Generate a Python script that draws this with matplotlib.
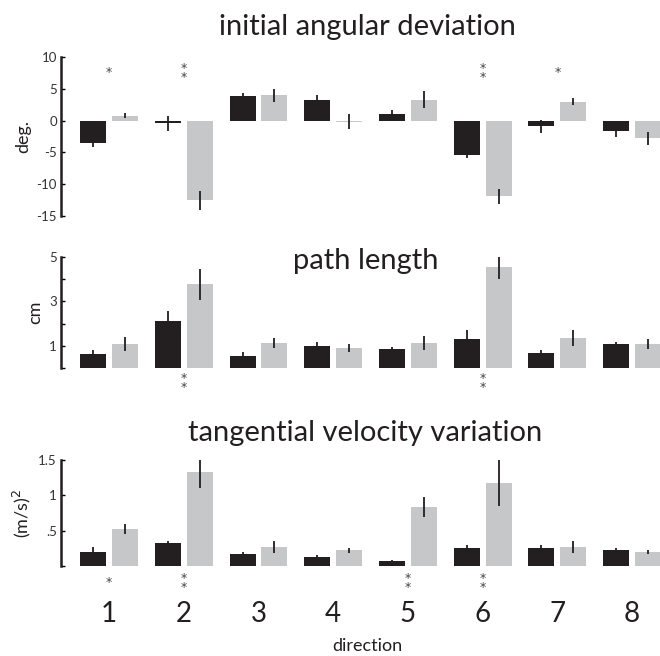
import numpy as np
import matplotlib
matplotlib.use("Agg")
import matplotlib.pyplot as plt

plt.rcParams['font.family'] = ['Lato', 'DejaVu Sans']

directions = [1, 2, 3, 4, 5, 6, 7, 8]

# initial angular deviation (deg.)
ang_black = [-3.6, -0.4, 3.8, 3.2, 1.0, -5.4, -0.9, -1.6]
ang_black_err = [0.5, 1.2, 0.6, 0.8, 0.6, 0.5, 1.0, 0.9]
ang_grey = [0.8, -12.5, 4.0, -0.15, 3.3, -11.9, 3.0, -2.8]
ang_grey_err = [0.4, 1.5, 1.0, 1.2, 1.3, 1.2, 0.55, 1.0]
ang_stars = {1: 1, 2: 2, 6: 2, 7: 1}

# path length (cm)
path_black = [0.63, 2.12, 0.54, 1.0, 0.86, 1.3, 0.68, 1.08]
path_black_err = [0.2, 0.45, 0.2, 0.15, 0.1, 0.4, 0.15, 0.1]
path_grey = [1.08, 3.78, 1.13, 0.9, 1.13, 4.55, 1.35, 1.08]
path_grey_err = [0.3, 0.7, 0.24, 0.2, 0.32, 0.52, 0.36, 0.22]
path_stars = {2: 2, 6: 2}

# tangential velocity variation ((m/s)^2)
vel_black = [0.2, 0.32, 0.17, 0.13, 0.07, 0.25, 0.25, 0.22]
vel_black_err = [0.07, 0.03, 0.03, 0.02, 0.01, 0.05, 0.05, 0.03]
vel_grey = [0.52, 1.33, 0.27, 0.22, 0.83, 1.18, 0.27, 0.2]
vel_grey_err = [0.07, 0.23, 0.08, 0.04, 0.14, 0.33, 0.08, 0.03]
vel_stars = {1: 1, 2: 2, 5: 2, 6: 2}

BLACK = '#231f20'
GREY = '#c6c7c9'
TXT = '#231f20'
W = 0.348
OFF = 0.214

fig = plt.figure(figsize=(6.6, 6.56), dpi=100)


def panel(rect, black, black_err, grey, grey_err, ylim, yticks, yticklabels,
          ylabel, stars, star_y):
    ax = fig.add_axes(rect)
    x = np.array(directions, dtype=float)
    ax.bar(x - OFF, black, W, color=BLACK, zorder=2)
    ax.bar(x + OFF, grey, W, color=GREY, zorder=2)
    ax.errorbar(x - OFF, black, yerr=black_err, fmt='none', ecolor=BLACK,
                elinewidth=1.3, capsize=0, zorder=3)
    ax.errorbar(x + OFF, grey, yerr=grey_err, fmt='none', ecolor=BLACK,
                elinewidth=1.3, capsize=0, zorder=3)
    ax.set_xlim(0.357, 8.4)
    ax.set_ylim(*ylim)
    ax.set_yticks(yticks)
    ax.set_yticklabels(yticklabels)
    for s in ['top', 'right', 'bottom']:
        ax.spines[s].set_visible(False)
    ax.spines['left'].set_linewidth(1.8)
    ax.spines['left'].set_color(BLACK)
    ax.set_xticks([])
    ax.tick_params(axis='y', direction='in', length=3, width=1,
                   labelsize=9.5, labelcolor='#333333', pad=3)
    ax.set_ylabel(ylabel, fontsize=13, color=TXT, labelpad=4)
    for d, n in stars.items():
        ax.text(d, star_y, '*\n' * (n - 1) + '*', ha='center', va='center',
                fontsize=9, color='#444444', linespacing=0.55,
                family='DejaVu Sans', clip_on=False)
    return ax


ax1 = panel([61 / 660, 1 - 216 / 656, 601 / 660, 159 / 656],
            ang_black, ang_black_err, ang_grey, ang_grey_err,
            (-15, 10), [-15, -10, -5, 0, 5, 10],
            ['-15', '-10', '-5', '0', '5', '10'], 'deg.', ang_stars, 7.5)
ax2 = panel([61 / 660, 1 - 368 / 656, 601 / 660, 111 / 656],
            path_black, path_black_err, path_grey, path_grey_err,
            (0, 5), [0, 1, 2, 3, 4, 5], ['', '1', '', '3', '', '5'],
            'cm', path_stars, -0.68)
ax3 = panel([61 / 660, 1 - 566 / 656, 601 / 660, 106 / 656],
            vel_black, vel_black_err, vel_grey, vel_grey_err,
            (0, 1.5), [0, 0.5, 1, 1.5], ['', '.5', '1', '1.5'],
            '(m/s)$^2$', vel_stars, -0.24)

# direction numbers under the bottom panel
for d in directions:
    ax3.text(d, -0.68, str(d), ha='center', va='center', fontsize=20,
             color=TXT, clip_on=False)

fig.text(367 / 660, 1 - 646 / 656, 'direction', ha='center', va='center',
         fontsize=13, color=TXT)
fig.text(367 / 660, 1 - 27 / 656, 'initial angular deviation', ha='center',
         va='center', fontsize=21, color=TXT)
fig.text(366 / 660, 1 - 261 / 656, 'path length', ha='center',
         va='center', fontsize=21, color=TXT)
fig.text(365 / 660, 1 - 433 / 656, 'tangential velocity variation',
         ha='center', va='center', fontsize=21, color=TXT)

fig.savefig('out.png', dpi=100)
